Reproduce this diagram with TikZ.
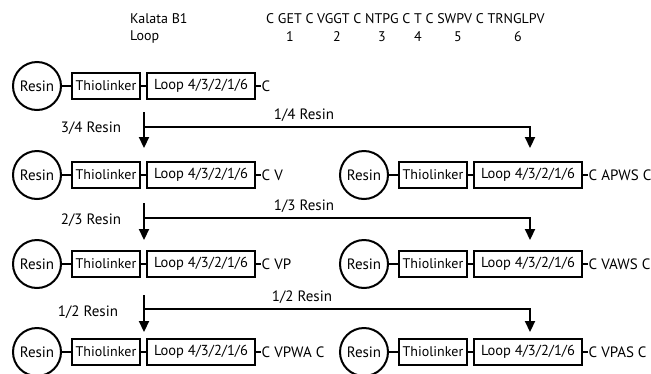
\documentclass[tikz,border=0pt]{standalone}
\usepackage{fontspec}
\setmainfont{PT Sans}
\usetikzlibrary{arrows.meta}
\newcommand\chainrow[5]{%
  \node[resin] (#1c) at (#2,#3) {Resin};
  \node[thio] (#1t) at (#2+69,#3) {Thiolinker};
  \node[loopbox] (#1l) at (#2+164,#3) {Loop 4/3/2/1/6};
  \node[seq] (#1s) at ([xshift=5pt]#1l.east) {#4};
  \draw[link] (#1c) -- (#1t);
  \draw[link] (#1t) -- (#1l);
  \draw[link] (#1l.east) -- (#1s.west);
}
\begin{document}
\begin{tikzpicture}[x=1pt,y=-1pt,
  every node/.style={font=\fontsize{15}{17}\selectfont},
  head/.style={font=\fontsize{14}{16}\selectfont,inner sep=0pt},
  resin/.style={circle,draw,line width=2pt,minimum size=48pt,inner sep=0pt},
  box/.style={draw,line width=2pt,minimum height=26pt,inner sep=0pt},
  thio/.style={box,minimum width=68pt,font=\fontsize{14}{16}\selectfont},
  loopbox/.style={box,minimum width=108pt,font=\fontsize{14.5}{16}\selectfont},
  link/.style={line width=2pt},
  flow/.style={line width=2.2pt,-{Triangle[length=11pt,width=10pt]}},
  lbl/.style={inner sep=0pt},
  seq/.style={inner sep=0.5pt,anchor=west}]
\useasboundingbox (0,0) rectangle (651,373);

% header
\node[head,anchor=west] (kal) at (130,19) {Kalata B1};
\node[head,anchor=west] (lp) at (130,37) {Loop};
\node[head,anchor=west] (sq) at (266,19) {C GET C VGGT C NTPG C T C SWPV C TRNGLPV};
\node[head] (n1) at (290,37) {1};
\node[head] (n2) at (337,37) {2};
\node[head] (n3) at (382,37) {3};
\node[head] (n4) at (418,37) {4};
\node[head] (n5) at (458,37) {5};
\node[head] (n6) at (518,37) {6};

% chains
\chainrow{a}{37}{86}{C}{}
\chainrow{b}{37}{175}{C V}{}
\chainrow{B}{364}{175}{C APWS C}{}
\chainrow{c}{37}{264}{C VP}{}
\chainrow{C}{364}{264}{C VAWS C}{}
\chainrow{d}{37}{352}{C VPWA C}{}
\chainrow{D}{364}{352}{C VPAS C}{}

% splits
\coordinate (s1) at (144,112); \coordinate (j1) at (144,127);
\coordinate (e1) at (144,148); \coordinate (r1) at (530,127); \coordinate (f1) at (530,148);
\draw[flow] (s1) -- (e1);
\draw[flow] (j1) -- (r1) -- (f1);
\node[lbl] (l1) at (91,128) {3/4 Resin};
\node[lbl] (m1) at (304,115) {1/4 Resin};

\coordinate (s2) at (144,203); \coordinate (j2) at (144,218);
\coordinate (e2) at (144,240); \coordinate (r2) at (530,218); \coordinate (f2) at (530,240);
\draw[flow] (s2) -- (e2);
\draw[flow] (j2) -- (r2) -- (f2);
\node[lbl] (l2) at (91,220) {2/3 Resin};
\node[lbl] (m2) at (304,206) {1/3 Resin};

\coordinate (s3) at (144,295); \coordinate (j3) at (144,309);
\coordinate (e3) at (144,332); \coordinate (r3) at (530,309); \coordinate (f3) at (530,332);
\draw[flow] (s3) -- (e3);
\draw[flow] (j3) -- (r3) -- (f3);
\node[lbl] (l3) at (88,312) {1/2 Resin};
\node[lbl] (m3) at (302,297) {1/2 Resin};
\end{tikzpicture}
\end{document}
